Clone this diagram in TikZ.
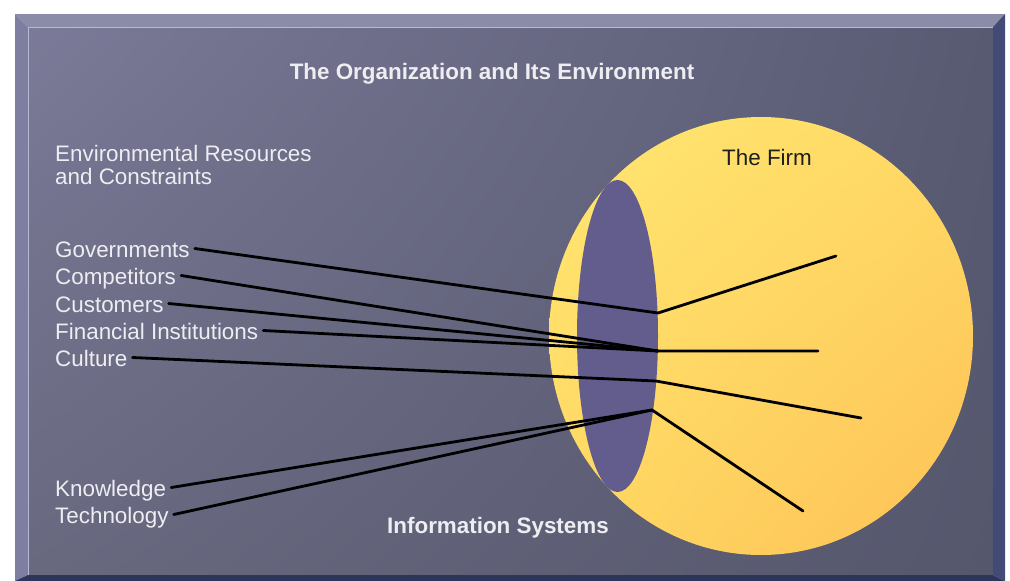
\documentclass[tikz,border=0pt]{standalone}
\usepackage{fontspec}
\setmainfont{Liberation Sans}
\usetikzlibrary{shadings}
\definecolor{faceTL}{HTML}{7B7A98}
\definecolor{faceTR}{HTML}{585A72}
\definecolor{faceBL}{HTML}{68687F}
\definecolor{faceBR}{HTML}{55576D}
\definecolor{bevTop}{HTML}{8A8CA8}
\definecolor{bevLeft}{HTML}{7E7EA0}
\definecolor{bevRight}{HTML}{434A75}
\definecolor{bevBottom}{HTML}{2D3558}
\definecolor{rimLine}{HTML}{B8B8D4}
\definecolor{firmTL}{HTML}{FFE672}
\definecolor{firmTR}{HTML}{FFD964}
\definecolor{firmBL}{HTML}{FFD862}
\definecolor{firmBR}{HTML}{FDC056}
\definecolor{isFill}{HTML}{625D8D}
\definecolor{labelText}{HTML}{EEEEF2}
\begin{document}
\begin{tikzpicture}[x=1pt,y=-1pt,
		lbl/.style={anchor=base west, inner sep=0pt, text height=17pt, text depth=0pt,
			text=labelText, font=\fontsize{22.4}{27}\selectfont},
		heading/.style={anchor=base, inner sep=0pt, font=\fontsize{22.4}{27}\selectfont\bfseries},
		ray/.style={line width=2.8pt, line cap=round}]
				% frame
				\fill[white] (0,0) rectangle (1010,581);
				\shade[upper left=faceTL, upper right=faceTR, lower left=faceBL, lower right=faceBR] (28,27) rectangle (993,575);
				\fill[bevTop] (15,14) -- (1005,14) -- (993,27) -- (28,27) -- cycle;
				\fill[bevLeft] (15,14) -- (28,27) -- (28,575) -- (15,581) -- cycle;
				\fill[bevRight] (1005,14) -- (1005,581) -- (993,575) -- (993,27) -- cycle;
				\fill[bevBottom] (15,581) -- (28,575) -- (993,575) -- (1005,581) -- cycle;
				\draw[rimLine, line width=1.5pt] (28.5,575) -- (28.5,27.5) -- (993,27.5);
				% the firm and its information systems
				\shade[upper left=firmTL, upper right=firmTR, lower left=firmBL, lower right=firmBR] (761,336) ellipse [x radius=212, y radius=219];
				\fill[isFill] (617.5,336) ellipse [x radius=40.5, y radius=156];
				% texts
				\node[heading, text=labelText] (ttl) at (492,79) {The Organization and Its Environment};
				\node[heading, text=labelText] (is) at (498,533) {Information Systems};
				\node[anchor=base, inner sep=0pt, text=black!88, font=\fontsize{22.4}{27}\selectfont] (firm) at (767,165) {The Firm};
				\node[lbl] (env) at (55,161) {Environmental Resources};
				\node[lbl] (env2) at (55,184) {and Constraints};
				\node[lbl] (gov) at (55,257) {Governments};
				\node[lbl] (comp) at (55,284) {Competitors};
				\node[lbl] (cust) at (55,312) {Customers};
				\node[lbl] (fin) at (55,339) {Financial Institutions};
				\node[lbl] (cult) at (55,366) {Culture};
				\node[lbl] (know) at (55,496) {Knowledge};
				\node[lbl] (tech) at (55,523) {Technology};
				% hubs on the edge of the information systems
				\coordinate (A) at (658,313);
				\coordinate (B) at (658,351);
				\coordinate (C) at (656,381);
				\coordinate (D) at (652,410);
				\coordinate (A2) at (836,256);
				\coordinate (B2) at (818,351);
				\coordinate (C2) at (861,418);
				\coordinate (D2) at (803,511);
				\draw[ray] ([xshift=5pt]gov.east) -- (A) -- (A2);
				\draw[ray] ([xshift=5pt]comp.east) -- (B);
				\draw[ray] ([xshift=5pt]cust.east) -- (B);
				\draw[ray] ([xshift=5pt]fin.east) -- (B) -- (B2);
				\draw[ray] ([xshift=5pt]cult.east) -- (C) -- (C2);
				\draw[ray] ([xshift=5pt]know.east) -- (D);
				\draw[ray] ([xshift=5pt]tech.east) -- (D) -- (D2);
			\end{tikzpicture}
\end{document}
